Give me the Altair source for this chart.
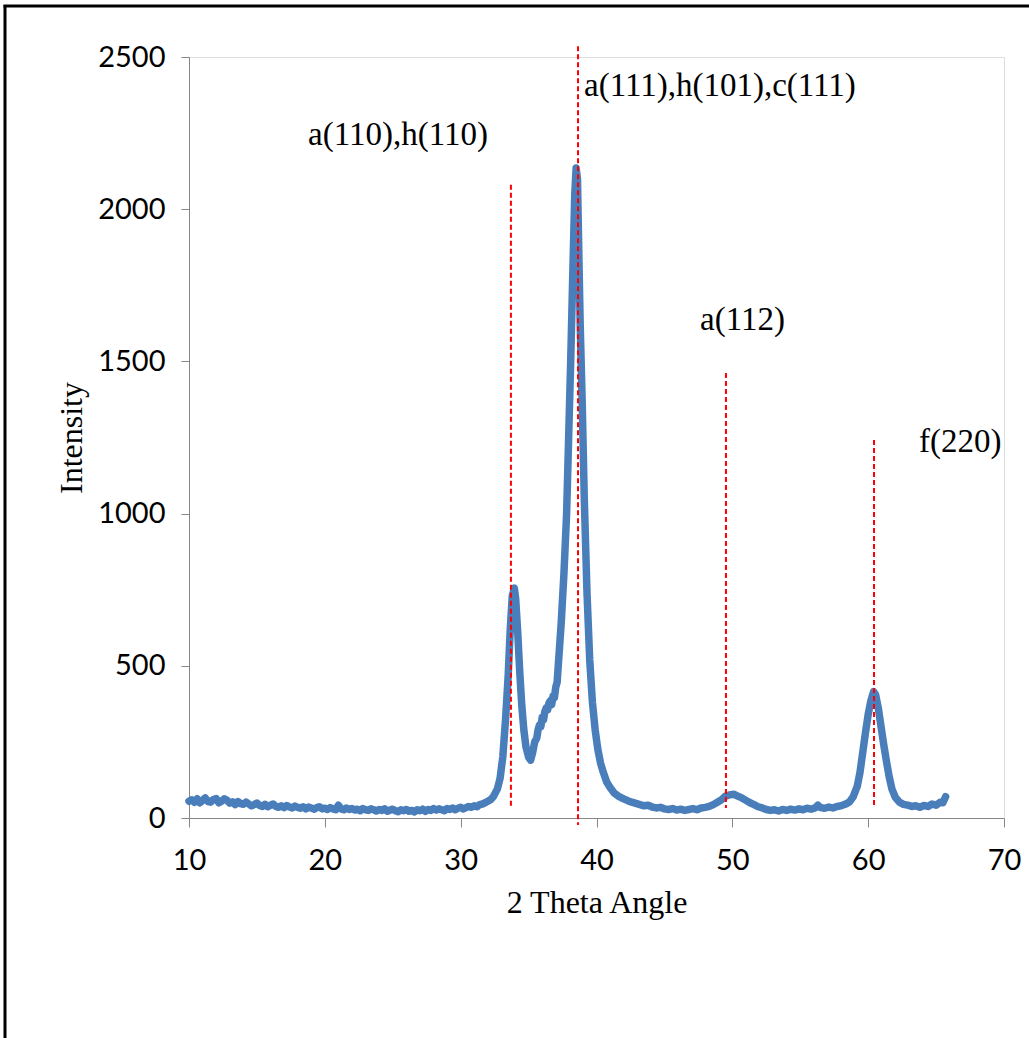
import altair as alt
import pandas as pd

# XRD pattern
two_theta = [10.0, 10.2, 10.4, 10.6, 10.8, 11.0, 11.2, 11.4, 11.6, 11.8, 12.0, 12.2, 12.4, 12.6, 12.8,
             13.0, 13.2, 13.4, 13.6, 13.8, 14.0, 14.2, 14.4, 14.6, 14.8, 15.0, 15.2, 15.4, 15.6, 15.8,
             16.0, 16.2, 16.4, 16.6, 16.8, 17.0, 17.2, 17.4, 17.6, 17.8, 18.0, 18.2, 18.4, 18.6, 18.8,
             19.0, 19.2, 19.4, 19.6, 19.8, 20.0, 20.2, 20.4, 20.6, 20.8, 21.0, 21.2, 21.4, 21.6, 21.8,
             22.0, 22.2, 22.4, 22.6, 22.8, 23.0, 23.2, 23.4, 23.6, 23.8, 24.0, 24.2, 24.4, 24.6, 24.8,
             25.0, 25.2, 25.4, 25.6, 25.8, 26.0, 26.2, 26.4, 26.6, 26.8, 27.0, 27.2, 27.4, 27.6, 27.8,
             28.0, 28.2, 28.4, 28.6, 28.8, 29.0, 29.2, 29.4, 29.6, 29.8, 30.0, 30.2, 30.4, 30.6, 30.8,
             31.0, 31.2, 31.4, 31.6, 31.8, 32.0, 32.2, 32.4, 32.7, 32.9,
             33.1, 33.3, 33.5, 33.65, 33.8, 33.95, 34.05, 34.2, 34.35, 34.5, 34.65, 34.8, 35.0, 35.15,
             35.3, 35.45, 35.6, 35.7, 35.8, 35.9, 36.0, 36.1, 36.2, 36.3, 36.4, 36.5, 36.6, 36.7, 36.8,
             36.9, 37.0, 37.1, 37.2, 37.4, 37.6, 37.8, 37.95,
             38.1, 38.25, 38.4, 38.5, 38.6, 38.7, 38.8, 38.95, 39.1, 39.3, 39.5, 39.7, 39.9, 40.1, 40.3,
             40.5, 40.75, 41.0, 41.3, 41.6,
             42.0, 42.3, 42.6, 42.9, 43.2, 43.5, 43.8, 44.1, 44.4, 44.7, 45.0, 45.3, 45.6, 45.9, 46.2,
             46.5, 46.8, 47.1, 47.4, 47.7, 48.0, 48.3, 48.6, 48.9, 49.2, 49.5, 49.8, 50.1, 50.4, 50.7,
             51.0, 51.3, 51.6, 51.9, 52.2, 52.5, 52.8, 53.1, 53.4, 53.7, 54.0, 54.3, 54.6, 54.9, 55.2,
             55.5, 55.8, 56.1, 56.3, 56.5, 56.8, 57.1, 57.4, 57.7, 58.0, 58.3, 58.6, 58.9, 59.2, 59.4,
             59.6, 59.8, 60.0, 60.2, 60.4, 60.55, 60.75, 60.95, 61.15, 61.35, 61.55, 61.75,
             62.0, 62.3, 62.6, 62.9, 63.2, 63.5, 63.8, 64.1, 64.4, 64.7, 65.0, 65.3, 65.5, 65.7]
intensity = [55, 60, 52, 63, 50, 58, 66, 54, 52, 61, 64, 50, 55, 63, 58,
             49, 53, 44, 54, 47, 45, 52, 46, 40, 44, 49, 41, 38, 45, 37,
             42, 46, 38, 35, 40, 34, 41, 36, 33, 39, 35, 32, 37, 30, 36,
             33, 29, 34, 37, 30, 32, 28, 34, 30, 27, 42, 30, 27, 33, 28,
             31, 26, 29, 24, 31, 27, 25, 30, 27, 23, 28, 25, 30, 22, 26,
             29, 24, 21, 27, 24, 28, 22, 25, 20, 27, 24, 29, 22, 28, 25,
             31, 26, 30, 27, 24, 31, 28, 33, 27, 32, 35, 30, 34, 38, 35,
             40, 37, 44, 46, 50, 55, 60, 70, 95, 130,
             200, 320, 470, 620, 730, 755, 720, 610, 480, 370, 290, 235, 200, 190,
             215, 250, 262, 290, 305, 300, 330, 322, 350, 362, 355, 378, 385, 372, 400,
             395, 430, 445, 510, 640, 800, 1000, 1250,
             1500, 1780, 2050, 2135, 2100, 1850, 1620, 1360, 1050, 740, 520, 380, 290, 225, 180,
             150, 118, 100, 82, 72,
             63, 57, 52, 48, 44, 40, 42, 36, 33, 35, 30, 28, 31, 26, 29,
             25, 28, 31, 27, 33, 35, 38, 44, 52, 60, 72, 76, 78, 72, 66,
             58, 50, 44, 37, 33, 28, 25, 27, 23, 28, 25, 29, 26, 30, 27,
             32, 29, 33, 42, 34, 32, 36, 33, 38, 40, 45, 52, 70, 105, 150,
             215, 280, 340, 385, 415, 405, 360, 300, 240, 185, 135, 95,
             68, 52, 45, 42, 38, 40, 35, 41, 38, 46, 42, 52, 50, 70]

# reference peak markers
peak_pos = [33.7, 38.64, 49.53, 60.43]
peak_top = [2080, 2535, 1462, 1242]
peak_bottom = [33, -23, 33, 43]

# annotation labels
label_text = ["a(110),h(110)", "a(111),h(101),c(111)", "a(112)", "f(220)"]
label_x = [18.76, 39.08, 47.62, 63.74]
label_y = [2244, 2405, 1636, 1235]

df = pd.DataFrame({"tt": two_theta, "I": intensity})
peaks = pd.DataFrame({"x": peak_pos, "y": peak_top, "y2": peak_bottom})
labels = pd.DataFrame({"t": label_text, "x": label_x, "y": label_y})

xscale = alt.Scale(domain=[10, 70], nice=False, zero=False)
yscale = alt.Scale(domain=[0, 2500], nice=False)

base_x = alt.X("tt:Q", scale=xscale,
               axis=alt.Axis(title="2 Theta Angle", values=[10, 20, 30, 40, 50, 60, 70],
                             format="d", labelFlush=False,
                             grid=False, domainColor="#868686", tickColor="#868686",
                             tickSize=9, labelPadding=19, titlePadding=12,
                             labelFont="Lato", labelFontSize=29, labelColor="#000000",
                             titleFont="Liberation Serif", titleFontSize=32,
                             titleFontWeight="normal", titleColor="#000000"))
base_y = alt.Y("I:Q", scale=yscale,
               axis=alt.Axis(title="Intensity", values=[0, 500, 1000, 1500, 2000, 2500],
                             format="d", labelFlush=False,
                             grid=False, domainColor="#868686", tickColor="#868686",
                             tickSize=8, labelPadding=16, titlePadding=9,
                             labelFont="Lato", labelFontSize=29, labelColor="#000000",
                             titleFont="Liberation Serif", titleFontSize=32,
                             titleFontWeight="normal", titleColor="#000000"))

line = alt.Chart(df).mark_line(color="#4a7ebb", strokeWidth=7.5, strokeJoin="round",
                               strokeCap="round").encode(x=base_x, y=base_y)

rules = alt.Chart(peaks).mark_rule(color="#ff0000", strokeWidth=2, strokeDash=[5, 3],
                                   clip=False).encode(
    x=alt.X("x:Q", scale=xscale),
    y=alt.Y("y:Q", scale=yscale),
    y2="y2:Q")

texts = alt.Chart(labels).mark_text(align="left", baseline="middle", font="Liberation Serif",
                                    fontSize=33, color="#000000").encode(
    x=alt.X("x:Q", scale=xscale),
    y=alt.Y("y:Q", scale=yscale),
    text="t:N")

# outer frame (top and left edges visible in the reference)
frame_left = alt.Chart(pd.DataFrame({"k": [0]})).mark_rule(color="#000000", strokeWidth=3,
                                                            clip=False).encode(
    x=alt.value(-184), y=alt.value(-52), y2=alt.value(990))
frame_top = alt.Chart(pd.DataFrame({"k": [0]})).mark_rule(color="#000000", strokeWidth=3,
                                                           clip=False).encode(
    x=alt.value(-185.5), x2=alt.value(850), y=alt.value(-51))

chart = alt.layer(line, rules, texts, frame_left, frame_top).properties(
    width=815, height=761,
    autosize=alt.AutoSizeParams(type="none"),
    padding={"left": 189, "top": 57, "right": 25, "bottom": 220},
).configure_view(stroke=None).configure(background="#ffffff")

chart.save("out.html", embed_options={"renderer": "svg", "actions": False})
